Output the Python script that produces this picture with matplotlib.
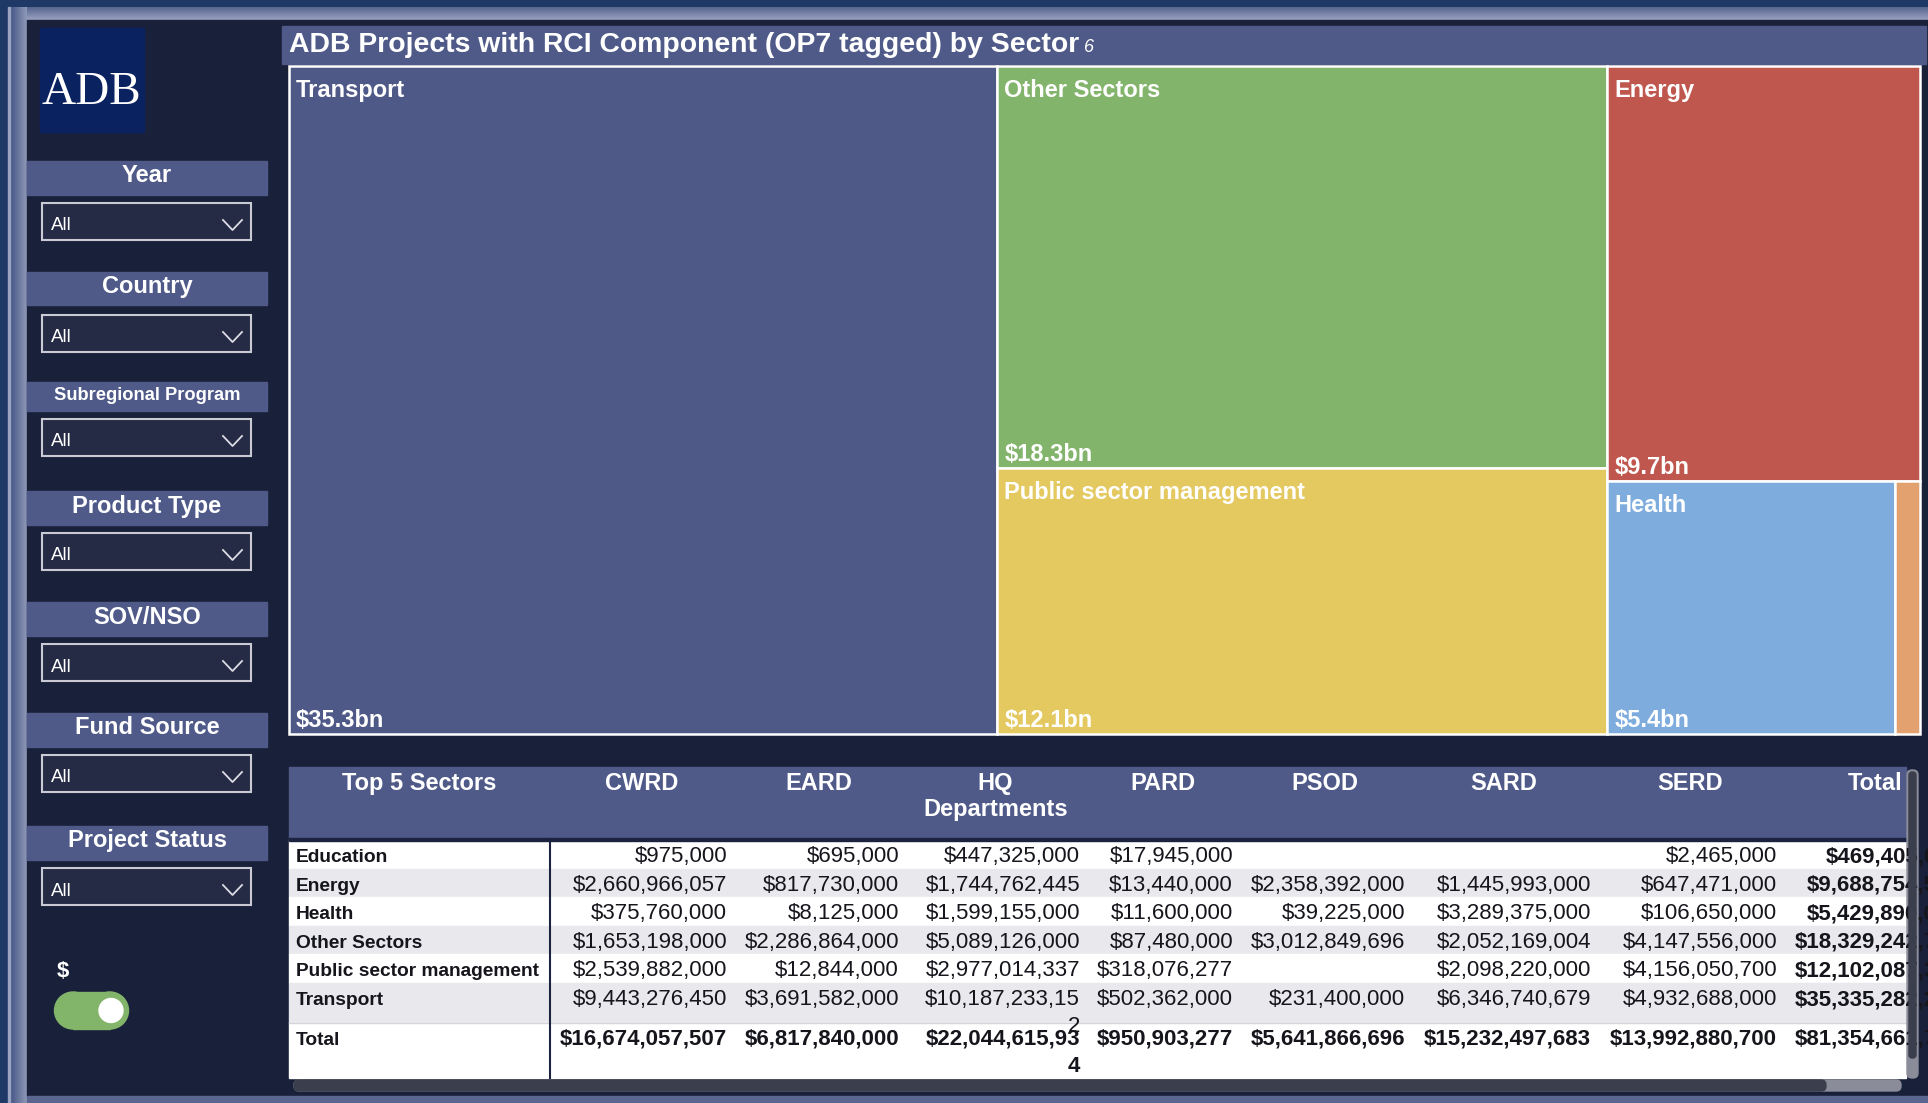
import matplotlib
matplotlib.use('Agg')
import matplotlib.pyplot as plt
from matplotlib.patches import Rectangle, FancyBboxPatch, Circle
import numpy as np

plt.rcParams['font.family'] = ['Liberation Sans', 'DejaVu Sans']

# ---- data ----
sectors = ['Education', 'Energy', 'Health', 'Other Sectors', 'Public sector management', 'Transport']
departments = ['CWRD', 'EARD', 'HQ\nDepartments', 'PARD', 'PSOD', 'SARD', 'SERD']
cwrd = [975000, 2660966057, 375760000, 1653198000, 2539882000, 9443276450]
eard = [695000, 817730000, 8125000, 2286864000, 12844000, 3691582000]
hq = [447325000, 1744762445, 1599155000, 5089126000, 2977014337, 10187233152]
pard = [17945000, 13440000, 11600000, 87480000, 318076277, 502362000]
psod = [None, 2358392000, 39225000, 3012849696, None, 231400000]
sard = [None, 1445993000, 3289375000, 2052169004, 2098220000, 6346740679]
serd = [2465000, 647471000, 106650000, 4147556000, 4156050700, 4932688000]
dept_values = [cwrd, eard, hq, pard, psod, sard, serd]

slicer_titles = ['Year', 'Country', 'Subregional Program', 'Product Type',
                 'SOV/NSO', 'Fund Source', 'Project Status']
slicer_values = ['All'] * 7

title = 'ADB Projects with RCI Component (OP7 tagged) by Sector'

sector_colors = {
    'Transport': '#4f5987',
    'Other Sectors': '#83b46c',
    'Public sector management': '#e4c860',
    'Energy': '#c0574f',
    'Health': '#7eacdd',
    'Education': '#e2a16f',
}

# totals per sector / per department
sector_tot = [sum(d[i] or 0 for d in dept_values) for i in range(len(sectors))]
dept_tot = [sum(v or 0 for v in d) for d in dept_values]
grand_tot = sum(sector_tot)
tot_of = dict(zip(sectors, sector_tot))

HEAD = '#4f5a89'
PANEL = '#19203a'

fig = plt.figure(figsize=(19.28, 11.03), dpi=100)
fig.patch.set_facecolor('#1f3966')
ax = fig.add_axes([0, 0, 1, 1])
ax.set_xlim(0, 1928)
ax.set_ylim(1103, 0)
ax.axis('off')


def hexrgb(c):
    c = c.lstrip('#')
    return np.array([int(c[i:i + 2], 16) / 255 for i in (0, 2, 4)])


def grad(x0, x1, y0, y1, c0, c1, horizontal=True):
    t = np.linspace(0, 1, 64)
    cols = hexrgb(c0)[None, :] * (1 - t[:, None]) + hexrgb(c1)[None, :] * t[:, None]
    img = cols[None, :, :] if horizontal else cols[:, None, :]
    ax.imshow(img, extent=(x0, x1, y1, y0), aspect='auto', zorder=0, interpolation='bilinear')


# frame
grad(8, 1928, 7, 20, '#56648f', '#9aa2bf', horizontal=False)
grad(8, 27, 7, 1103, '#3a4c7e', '#8f98b7', horizontal=True)
ax.add_patch(Rectangle((8, 7), 1.5, 1096, color='#9aa3c0', zorder=1))
ax.add_patch(Rectangle((27, 20), 1901, 1076, color=PANEL, zorder=1))
ax.add_patch(Rectangle((27, 1096), 1901, 7, color='#5a6690', zorder=1))
ax.set_xlim(0, 1928)
ax.set_ylim(1103, 0)

# logo
ax.add_patch(Rectangle((40, 28), 104, 104, color='#0b2260', zorder=2))
ax.text(91, 104, 'ADB', family=['Liberation Serif', 'DejaVu Serif'], fontsize=34,
        color='white', ha='center', va='baseline', zorder=3)

# slicers
head_tops = [161, 272, 382, 491, 602, 713, 826]
head_h = [34, 33, 29, 34, 34, 34, 34]
drop_tops = [203, 315, 419, 533, 644, 755, 868]
for name, val, ht, hh, dt in zip(slicer_titles, slicer_values, head_tops, head_h, drop_tops):
    ax.add_patch(Rectangle((27, ht), 240, hh, color=HEAD, zorder=2))
    fs = 13.2 if len(name) > 15 else 17
    ax.text(147, ht + hh / 2 + (4 if fs < 15 else 4.5), name, fontsize=fs, fontweight='bold',
            color='white', ha='center', va='baseline', zorder=3)
    ax.add_patch(Rectangle((42, dt), 209, 37, facecolor='#262b45', edgecolor='#c9cad3',
                           lw=1.5, zorder=2))
    ax.text(51, dt + 27.5, val, fontsize=13.5, color='white', ha='left', va='baseline', zorder=3)
    ax.plot([223, 232.5, 242], [dt + 17, dt + 27, dt + 17], color='#dcdce4', lw=1.3, zorder=3)

# $ toggle
ax.text(63, 977, '$', fontsize=16, fontweight='bold', color='white', ha='center',
        va='baseline', zorder=3)
ax.add_patch(Rectangle((55 + 18, 992), 73 - 36, 37, color='#82b46a', zorder=2))
ax.add_patch(Circle((73, 1010.5), 18.5, color='#82b46a', zorder=2))
ax.add_patch(Circle((110, 1010.5), 18.5, color='#82b46a', zorder=2))
ax.add_patch(Circle((111, 1010.5), 12, color='white', zorder=3))

# title bar
ax.add_patch(Rectangle((282, 26), 1644, 38, color=HEAD, zorder=2))
t = ax.text(289, 52, title, fontsize=20.4, fontweight='bold', color='white',
            ha='left', va='baseline', zorder=3)
fig.canvas.draw()
renderer = fig.canvas.get_renderer()
bb = t.get_window_extent(renderer=renderer)
ax.text(bb.x1 + 5, 52, '6', fontsize=13, style='italic', color='white',
        ha='left', va='baseline', zorder=3)

# ---- treemap ----
tx0, ty0, tx1, ty1 = 289, 66, 1920, 734
columns = [['Transport'], ['Other Sectors', 'Public sector management'],
           ['Energy', ('Health', 'Education')]]


def item_val(it):
    return sum(tot_of[s] for s in it) if isinstance(it, tuple) else tot_of[it]


rects = {}
x = tx0
W, H = tx1 - tx0, ty1 - ty0
for col in columns:
    cv = sum(item_val(it) for it in col)
    cw = W * cv / grand_tot
    y = ty0
    for it in col:
        ih = H * item_val(it) / cv
        if isinstance(it, tuple):
            xx = x
            for s in it:
                sw = cw * tot_of[s] / item_val(it)
                rects[s] = (xx, y, sw, ih)
                xx += sw
        else:
            rects[it] = (x, y, cw, ih)
        y += ih
    x += cw

for s, (rx, ry, rw, rh) in rects.items():
    ax.add_patch(Rectangle((rx, ry), rw, rh, facecolor=sector_colors[s],
                           edgecolor='white', lw=1.8, zorder=2))
    if rw > 80:
        ax.text(rx + 7, ry + 31, s, fontsize=17, fontweight='bold', color='white',
                ha='left', va='baseline', zorder=3)
        ax.text(rx + 7, ry + rh - 7, '${:.1f}bn'.format(tot_of[s] / 1e9), fontsize=17,
                fontweight='bold', color='white', ha='left', va='baseline', zorder=3)

# ---- table ----
edges = [289, 550, 733, 905, 1086, 1239, 1411, 1597, 1783, 1968]
clip_x1 = 1906
hq_wrap = 14
head_y0, head_y1 = 767, 839
row_h = [28.6, 28.6, 28.6, 28.6, 28.6, 40, 55]
line_gap = 27
hidden_chars = 5  # the Total column is scrolled: last chars sit past the visible edge


def money(v):
    return '' if v is None else '${:,.0f}'.format(v)


def wrap(s, n):
    return [s[i:i + n] for i in range(0, len(s), n)] or ['']


def clip_rect(y0, y1):
    return Rectangle((edges[0], y0), clip_x1 - edges[0], y1 - y0, transform=ax.transData)


# width of the hidden tail of the Total column, so the cut falls between characters
probe = ax.text(0, 0, '0,000', fontsize=16, fontweight='bold')
pw = probe.get_window_extent(renderer=renderer).width
probe.remove()
total_anchor = clip_x1 + pw

ax.add_patch(Rectangle((edges[0], head_y0), clip_x1 - edges[0], head_y1 - head_y0,
                       color=HEAD, zorder=2))
ax.add_patch(Rectangle((edges[0], head_y1 - 1), clip_x1 - edges[0], 2.5,
                       color='#1c2340', zorder=3))
headers = ['Top 5 Sectors'] + departments + ['Total']
hclip = clip_rect(head_y0, head_y1)
for j, h in enumerate(headers):
    cx = (edges[j] + edges[j + 1]) / 2
    for k, line in enumerate(h.split('\n')):
        tt = ax.text(cx, head_y0 + 23 + k * 26, line, fontsize=17, fontweight='bold',
                     color='white', ha='center', va='baseline', zorder=4)
        tt.set_clip_path(hclip)

rows = [(s, [d[i] for d in dept_values], sector_tot[i], False) for i, s in enumerate(sectors)]
rows.append(('Total', dept_tot, grand_tot, True))
y = head_y1 + 1
for i, (lab, vals, tot, bold) in enumerate(rows):
    h = row_h[i]
    bg = '#e9e9ed' if i % 2 == 1 else 'white'
    ax.add_patch(Rectangle((edges[0], y), clip_x1 - edges[0], h, color=bg, zorder=2))
    if i == len(rows) - 1:
        ax.plot([edges[0], clip_x1], [y, y], color='#d4d4da', lw=1, zorder=3)
    tt = ax.text(296, y + 22, lab, fontsize=13.75, fontweight='bold', color='#15151c',
                 ha='left', va='baseline', zorder=4)
    tt.set_clip_path(clip_rect(y, y + h))
    cells = [money(v) for v in vals] + [money(tot)]
    for j, c in enumerate(cells):
        last = j == len(cells) - 1
        lines = wrap(c, hq_wrap) if j == 2 else [c]
        wt = 'bold' if (bold or last) else 'normal'
        xr = total_anchor if last else edges[j + 2] - 6
        for k, line in enumerate(lines):
            tt = ax.text(xr, y + 22 + k * line_gap, line, fontsize=16,
                         fontweight=wt, color='#15151c', ha='right', va='baseline', zorder=4)
            tt.set_clip_path(clip_rect(y, y + h))
    y += h
table_y1 = y
ax.plot([edges[1], edges[1]], [head_y1, table_y1], color='#1c2340', lw=1.5, zorder=4)

# scrollbars
ax.add_patch(FancyBboxPatch((edges[0] + 5, 1080), clip_x1 - edges[0] - 10, 11,
                            boxstyle='round,pad=0,rounding_size=5', color='#8a8c99', zorder=3))
ax.add_patch(FancyBboxPatch((edges[0] + 5, 1080), 1831 - edges[0] - 10, 11,
                            boxstyle='round,pad=0,rounding_size=5', color='#3b3e4c', zorder=4))
ax.add_patch(FancyBboxPatch((1907, 770), 11, 308,
                            boxstyle='round,pad=0,rounding_size=5', color='#8a8c99', zorder=3))
ax.add_patch(FancyBboxPatch((1909, 772), 7, 286,
                            boxstyle='round,pad=0,rounding_size=3', color='#3b3e4c', zorder=4))

ax.set_xlim(0, 1928)
ax.set_ylim(1103, 0)
fig.savefig('out.png', dpi=100, facecolor=fig.get_facecolor())
